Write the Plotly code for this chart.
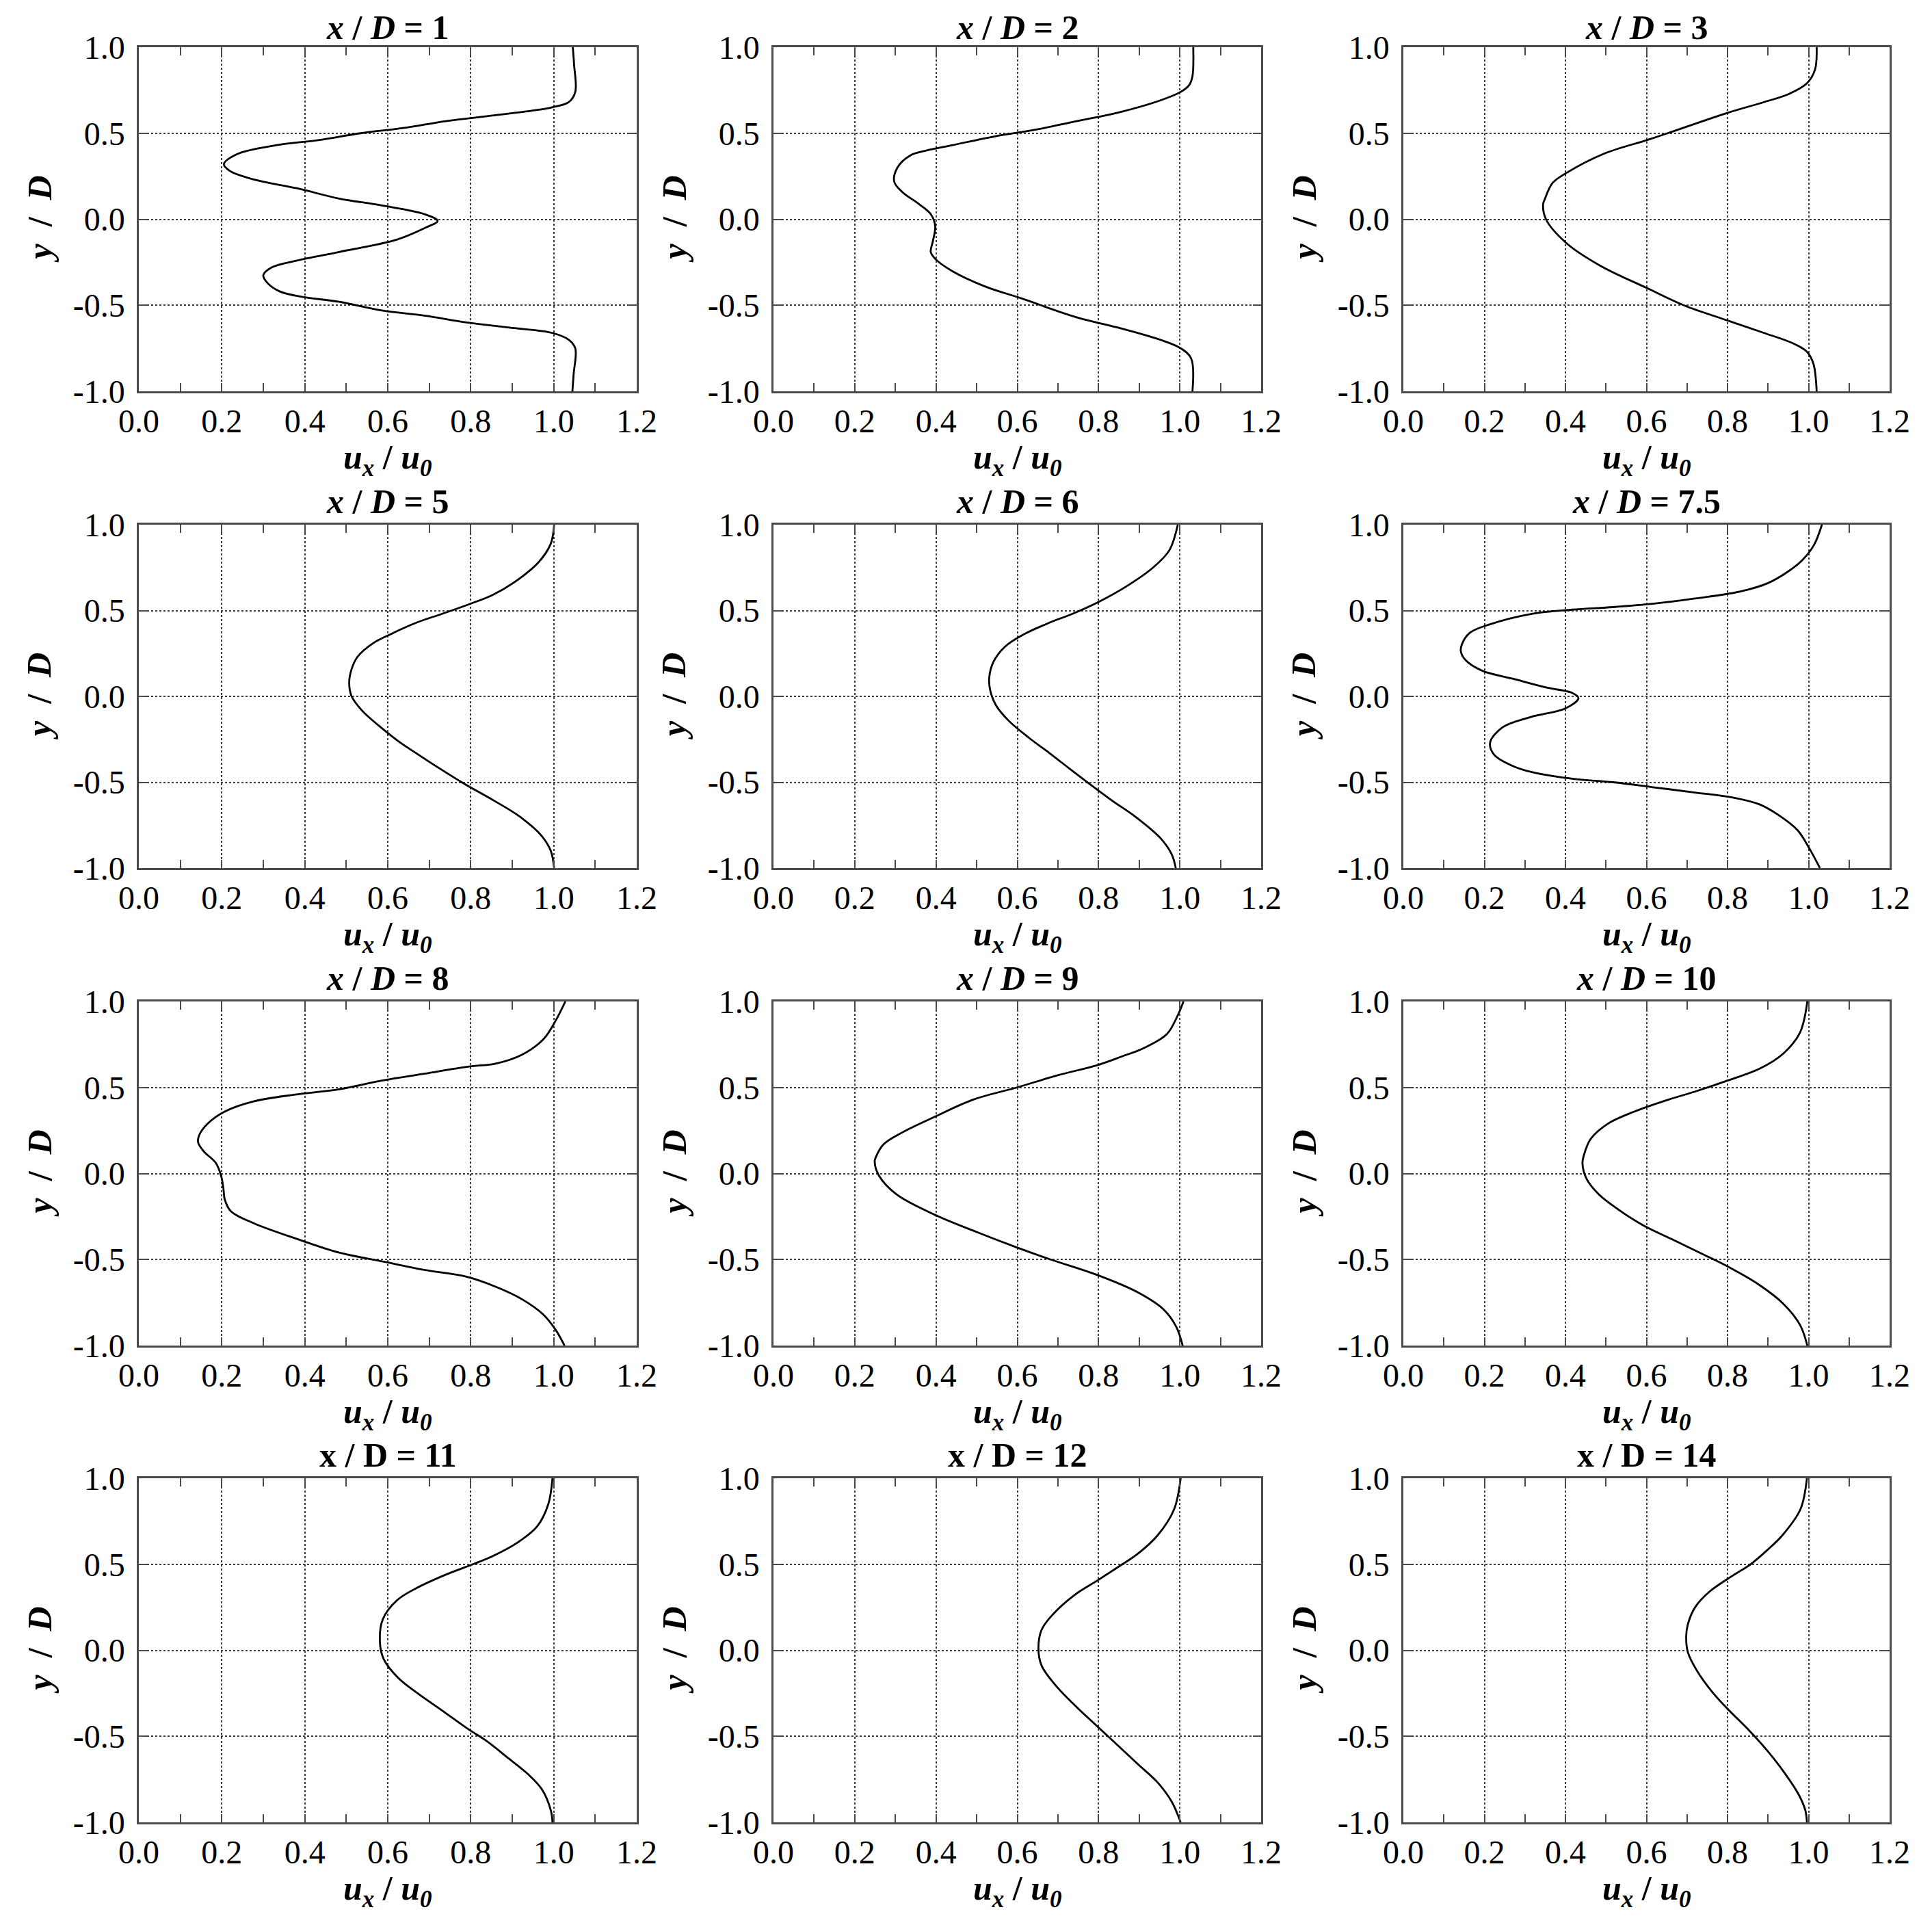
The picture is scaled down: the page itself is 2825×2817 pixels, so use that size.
import plotly.graph_objects as go

W, H = 2825, 2817

# ---- data: u_x/u_0 profiles read along y/D for each downstream station ----
stations = ["1", "2", "3", "5", "6", "7.5", "8", "9", "10", "11", "12", "14"]

y_xd1 = [1.0, 0.90, 0.74, 0.68, 0.65, 0.63, 0.60, 0.57, 0.53, 0.50, 0.46, 0.43, 0.38, 0.32, 0.28, 0.23,
         0.18, 0.12, 0.08, 0.03, -0.01, -0.05, -0.12, -0.19, -0.24, -0.28, -0.325, -0.37, -0.42, -0.45,
         -0.48, -0.53, -0.56, -0.60, -0.63, -0.66, -0.70, -0.75, -0.90, -1.0]
u_xd1 = [1.046, 1.049, 1.052, 1.036, 0.995, 0.944, 0.842, 0.740, 0.637, 0.535, 0.432, 0.330, 0.238, 0.205,
         0.220, 0.279, 0.381, 0.483, 0.586, 0.688, 0.720, 0.690, 0.620, 0.483, 0.381, 0.320, 0.300, 0.310,
         0.340, 0.390, 0.483, 0.586, 0.688, 0.790, 0.893, 0.995, 1.036, 1.052, 1.048, 1.045]

y_xd2 = [1.0, 0.83, 0.78, 0.74, 0.69, 0.62, 0.57, 0.52, 0.48, 0.43, 0.40, 0.37, 0.30, 0.22, 0.16, 0.09,
         0.03, -0.04, -0.13, -0.19, -0.23, -0.30, -0.39, -0.46, -0.57, -0.63, -0.70, -0.75, -0.81, -1.0]
u_xd2 = [1.033, 1.031, 1.023, 1.002, 0.951, 0.848, 0.746, 0.644, 0.541, 0.439, 0.377, 0.336, 0.305, 0.297,
         0.316, 0.357, 0.387, 0.398, 0.392, 0.387, 0.398, 0.439, 0.520, 0.610, 0.746, 0.848, 0.951, 1.002,
         1.028, 1.031]

y_xd3 = [1.0, 0.87, 0.79, 0.73, 0.68, 0.62, 0.50, 0.46, 0.38, 0.27, 0.21, 0.11, 0.09, 0.0, -0.14, -0.27,
         -0.40, -0.50, -0.59, -0.66, -0.72, -0.77, -0.84, -1.0]
u_xd3 = [1.020, 1.016, 0.996, 0.953, 0.889, 0.802, 0.652, 0.601, 0.494, 0.403, 0.368, 0.348, 0.345, 0.352,
         0.403, 0.486, 0.601, 0.692, 0.802, 0.889, 0.960, 0.996, 1.012, 1.020]

y_xd5 = [1.0, 0.89, 0.78, 0.66, 0.59, 0.54, 0.48, 0.43, 0.36, 0.31, 0.23, 0.16, 0.08, 0.0, -0.08, -0.17,
         -0.26, -0.33, -0.42, -0.51, -0.61, -0.70, -0.81, -0.90, -1.0]
u_xd5 = [1.001, 0.993, 0.963, 0.902, 0.852, 0.800, 0.730, 0.670, 0.605, 0.565, 0.527, 0.513, 0.507, 0.513,
         0.537, 0.578, 0.625, 0.668, 0.725, 0.785, 0.858, 0.918, 0.970, 0.993, 1.001]

y_xd6 = [1.0, 0.85, 0.75, 0.64, 0.55, 0.48, 0.43, 0.36, 0.29, 0.20, 0.11, 0.04, -0.05, -0.14, -0.24, -0.33,
         -0.42, -0.51, -0.61, -0.70, -0.83, -0.92, -1.0]
u_xd6 = [0.995, 0.974, 0.934, 0.868, 0.800, 0.735, 0.680, 0.615, 0.570, 0.541, 0.531, 0.533, 0.547, 0.578,
         0.628, 0.679, 0.728, 0.778, 0.835, 0.890, 0.954, 0.980, 0.990]

y_xd7_5 = [1.0, 0.88, 0.79, 0.72, 0.66, 0.61, 0.57, 0.54, 0.52, 0.505, 0.48, 0.42, 0.37, 0.30, 0.26, 0.21,
           0.15, 0.10, 0.05, 0.02, -0.01, -0.07, -0.12, -0.18, -0.27, -0.34, -0.40, -0.44, -0.48, -0.50,
           -0.53, -0.56, -0.59, -0.63, -0.69, -0.78, -0.89, -1.0]
u_xd7_5 = [1.033, 1.013, 0.983, 0.945, 0.900, 0.830, 0.720, 0.619, 0.518, 0.416, 0.315, 0.214, 0.164, 0.144,
           0.142, 0.154, 0.194, 0.275, 0.356, 0.417, 0.432, 0.400, 0.315, 0.245, 0.214, 0.224, 0.265, 0.315,
           0.417, 0.518, 0.619, 0.720, 0.815, 0.880, 0.925, 0.973, 1.003, 1.028]

y_xd8 = [1.0, 0.89, 0.78, 0.69, 0.64, 0.62, 0.58, 0.54, 0.49, 0.46, 0.42, 0.36, 0.29, 0.22, 0.18, 0.13,
         0.06, -0.02, -0.09, -0.15, -0.22, -0.29, -0.38, -0.46, -0.51, -0.56, -0.60, -0.66, -0.73, -0.82,
         -0.91, -1.0]
u_xd8 = [1.028, 1.005, 0.975, 0.923, 0.862, 0.790, 0.688, 0.586, 0.483, 0.381, 0.278, 0.207, 0.166, 0.145,
         0.143, 0.156, 0.186, 0.199, 0.204, 0.207, 0.222, 0.278, 0.381, 0.483, 0.586, 0.688, 0.790, 0.862,
         0.923, 0.975, 1.005, 1.026]

y_xd9 = [1.0, 0.92, 0.81, 0.73, 0.68, 0.63, 0.57, 0.50, 0.43, 0.33, 0.24, 0.17, 0.09, 0.07, -0.01, -0.12,
         -0.24, -0.34, -0.43, -0.50, -0.59, -0.69, -0.79, -0.89, -1.0]
u_xd9 = [1.009, 0.995, 0.968, 0.912, 0.857, 0.797, 0.698, 0.599, 0.492, 0.397, 0.318, 0.271, 0.251, 0.249,
         0.259, 0.302, 0.397, 0.500, 0.599, 0.682, 0.797, 0.896, 0.960, 0.991, 1.007]

y_xd10 = [1.0, 0.82, 0.70, 0.61, 0.54, 0.48, 0.43, 0.36, 0.29, 0.20, 0.11, 0.06, -0.03, -0.12, -0.21, -0.30,
          -0.38, -0.47, -0.54, -0.65, -0.76, -0.88, -1.0]
u_xd10 = [0.997, 0.979, 0.939, 0.880, 0.800, 0.725, 0.655, 0.570, 0.505, 0.462, 0.446, 0.442, 0.452, 0.482,
          0.531, 0.591, 0.661, 0.740, 0.800, 0.880, 0.939, 0.979, 0.997]

y_xd11 = [1.0, 0.85, 0.72, 0.63, 0.55, 0.50, 0.44, 0.36, 0.29, 0.18, 0.05, -0.05, -0.16, -0.25, -0.36, -0.46,
          -0.53, -0.63, -0.72, -0.81, -0.93, -1.0]
u_xd11 = [0.997, 0.987, 0.960, 0.915, 0.855, 0.805, 0.740, 0.668, 0.622, 0.588, 0.581, 0.590, 0.625, 0.672,
          0.737, 0.795, 0.840, 0.892, 0.938, 0.972, 0.993, 0.997]

y_xd12 = [1.0, 0.82, 0.67, 0.56, 0.49, 0.41, 0.32, 0.21, 0.12, 0.01, -0.09, -0.20, -0.33, -0.44, -0.55, -0.66,
          -0.77, -0.88, -1.0]
u_xd12 = [1.002, 0.986, 0.946, 0.896, 0.852, 0.800, 0.740, 0.688, 0.660, 0.652, 0.660, 0.693, 0.746, 0.796,
          0.846, 0.896, 0.946, 0.980, 1.002]

y_xd14 = [1.0, 0.82, 0.67, 0.58, 0.50, 0.43, 0.34, 0.25, 0.15, 0.08, -0.01, -0.12, -0.25, -0.34, -0.47, -0.58,
          -0.71, -0.84, -0.93, -1.0]
u_xd14 = [0.996, 0.980, 0.936, 0.897, 0.857, 0.810, 0.755, 0.720, 0.702, 0.698, 0.702, 0.725, 0.765, 0.800,
          0.855, 0.897, 0.940, 0.976, 0.992, 0.996]

profiles = [(y_xd1, u_xd1), (y_xd2, u_xd2), (y_xd3, u_xd3),
            (y_xd5, u_xd5), (y_xd6, u_xd6), (y_xd7_5, u_xd7_5),
            (y_xd8, u_xd8), (y_xd9, u_xd9), (y_xd10, u_xd10),
            (y_xd11, u_xd11), (y_xd12, u_xd12), (y_xd14, u_xd14)]

x_tickvals = [0.0, 0.2, 0.4, 0.6, 0.8, 1.0, 1.2]
x_ticktext = ["0.0", "0.2", "0.4", "0.6", "0.8", "1.0", "1.2"]
y_tickvals = [-1.0, -0.5, 0.0, 0.5, 1.0]
y_ticktext = ["-1.0", "-0.5", "0.0", "0.5", "1.0"]

# ---- layout (pixel boxes of each plot area; page body adds ~7px offset) ----
col_px = [(195, 923), (1123, 1836), (2044, 2755)]
row_px = [(61, 564), (759, 1261), (1456, 1959), (2153, 2656)]

FONT = "Liberation Serif, Times New Roman, serif"
FRAME = "#4a4a4a"

fig = go.Figure()
annotations = []

for i, (yy, uu) in enumerate(profiles):
    r, c = divmod(i, 3)
    n = i + 1
    sfx = "" if n == 1 else str(n)
    xa, ya = "x" + sfx, "y" + sfx

    fig.add_trace(go.Scatter(
        x=uu, y=yy, mode="lines",
        line=dict(color="black", width=2.8, shape="spline", smoothing=1.0),
        xaxis=xa, yaxis=ya, showlegend=False, hoverinfo="skip"
    ))

    x0, x1 = col_px[c]
    y0, y1 = row_px[r]
    common = dict(
        showline=True, mirror="ticks", linecolor=FRAME, linewidth=2.5,
        ticks="inside", ticklen=12, tickwidth=2, tickcolor=FRAME,
        showgrid=True, gridcolor="#3c3c3c", griddash="dot", gridwidth=1.6,
        zeroline=False, tickmode="array", automargin=False,
        tickfont=dict(family=FONT, size=48, color="black"),
    )
    fig.layout["xaxis" + sfx] = dict(
        domain=[x0 / W, x1 / W], range=[0, 1.2], anchor=ya,
        tickvals=x_tickvals, ticktext=x_ticktext, ticklabelstandoff=0,
        minor=dict(tickmode="linear", tick0=0, dtick=0.1, ticks="inside", ticklen=12,
                   tickwidth=2, tickcolor=FRAME, showgrid=False),
        **common
    )
    fig.layout["yaxis" + sfx] = dict(
        domain=[1 - y1 / H, 1 - y0 / H], range=[-1, 1], anchor=xa,
        tickvals=y_tickvals, ticktext=y_ticktext, ticklabelstandoff=8,
        **common
    )

    if r < 3:
        title = f"<b><i>x</i> / <i>D</i> = {stations[i]}</b>"
    else:
        title = f"<b>x / D = {stations[i]}</b>"
    annotations.append(dict(
        text=title, x=0.5, y=1, xref=xa + " domain", yref=ya + " domain",
        xanchor="center", yanchor="middle", yshift=29 if r == 0 else 34, showarrow=False,
        font=dict(family=FONT, size=50, color="black")
    ))
    annotations.append(dict(
        text="<b><i>u</i><sub><i>x</i></sub>&nbsp;/&nbsp;<i>u</i><sub><i>0</i></sub></b>",
        x=0.5, y=0, xref=xa + " domain", yref=ya + " domain",
        xanchor="center", yanchor="top", yshift=-66, showarrow=False,
        font=dict(family=FONT, size=50, color="black")
    ))
    annotations.append(dict(
        text="<b><i>y</i>&nbsp;&nbsp;/&nbsp;&nbsp;<i>D</i></b>",
        x=0, y=0.5, xref=xa + " domain", yref=ya + " domain",
        xanchor="right", yanchor="middle", xshift=-116, textangle=-90, showarrow=False,
        font=dict(family=FONT, size=50, color="black")
    ))

fig.update_layout(
    width=W, height=H,
    margin=dict(l=0, r=0, t=0, b=0, pad=0, autoexpand=False),
    paper_bgcolor="white", plot_bgcolor="white",
    annotations=annotations,
    showlegend=False,
)

fig.write_html("out.html")
